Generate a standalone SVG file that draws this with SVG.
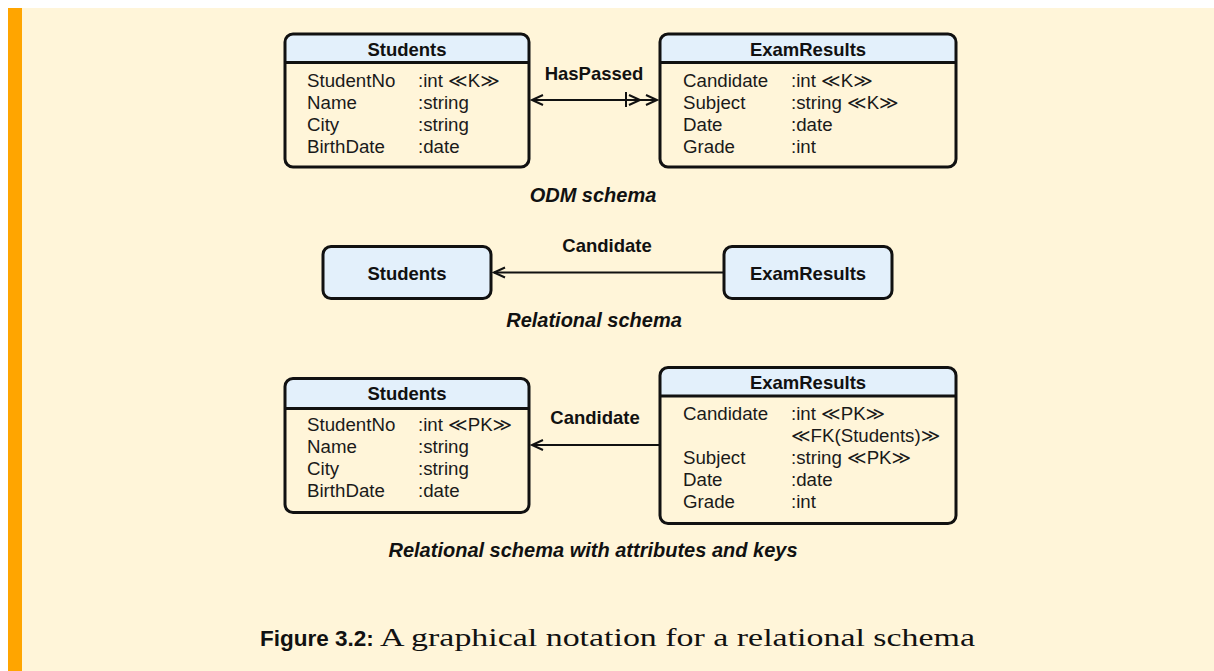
<svg xmlns="http://www.w3.org/2000/svg" width="1214" height="671" viewBox="0 0 1214 671">
<style>
.bgc{fill:#FFF5D9}
.body{fill:#FFF5D9}
.hdr{fill:#E3F0FB}
.frame{fill:none;stroke:#111;stroke-width:3}
.sep{stroke:#111;stroke-width:3}
.t{font-family:"Liberation Sans",Arial,"DejaVu Sans",sans-serif;font-size:18.7px;fill:#1a1a1a}
.b{font-family:"Liberation Sans",Arial,sans-serif;font-size:18.5px;font-weight:bold;fill:#111;text-anchor:middle}
.cap{font-family:"Liberation Sans",Arial,sans-serif;font-size:20px;font-weight:bold;font-style:italic;fill:#111;text-anchor:middle}
.ln{stroke:#111;stroke-width:2;fill:none}
</style>
<rect x="0" y="0" width="1214" height="671" fill="#FFFFFF"/>
<rect x="8" y="8" width="1206" height="663" class="bgc"/>
<rect x="8" y="8" width="14" height="663" fill="#FFA500"/>

<g id="odm-students">
<rect x="285" y="34" width="244" height="133" rx="8" class="body"/>
<path d="M285,62.5 V42 a8,8 0 0 1 8,-8 H521 a8,8 0 0 1 8,8 V62.5 Z" class="hdr"/>
<rect x="285" y="34" width="244" height="133" rx="8" class="frame"/>
<line x1="285" y1="62.5" x2="529" y2="62.5" class="sep"/>
<text x="407" y="55.5" class="b">Students</text>
<text class="t"><tspan x="307" y="86.5">StudentNo</tspan><tspan x="307" y="108.5">Name</tspan><tspan x="307" y="130.5">City</tspan><tspan x="307" y="152.5">BirthDate</tspan></text>
<text class="t"><tspan x="418" y="86.5">:int ≪K≫</tspan><tspan x="418" y="108.5">:string</tspan><tspan x="418" y="130.5">:string</tspan><tspan x="418" y="152.5">:date</tspan></text>
</g>

<g id="odm-examresults">
<rect x="660" y="34" width="296" height="133" rx="8" class="body"/>
<path d="M660,62.5 V42 a8,8 0 0 1 8,-8 H948 a8,8 0 0 1 8,8 V62.5 Z" class="hdr"/>
<rect x="660" y="34" width="296" height="133" rx="8" class="frame"/>
<line x1="660" y1="62.5" x2="956" y2="62.5" class="sep"/>
<text x="808" y="55.5" class="b">ExamResults</text>
<text class="t"><tspan x="683" y="86.5">Candidate</tspan><tspan x="683" y="108.5">Subject</tspan><tspan x="683" y="130.5">Date</tspan><tspan x="683" y="152.5">Grade</tspan></text>
<text class="t"><tspan x="791" y="86.5">:int ≪K≫</tspan><tspan x="791" y="108.5">:string ≪K≫</tspan><tspan x="791" y="130.5">:date</tspan><tspan x="791" y="152.5">:int</tspan></text>
</g>

<g id="rel-students">
<rect x="323" y="246.5" width="168" height="52" rx="8" class="hdr"/>
<rect x="323" y="246.5" width="168" height="52" rx="8" class="frame"/>
<text x="407" y="279.5" class="b">Students</text>
</g>

<g id="rel-examresults">
<rect x="724" y="246.5" width="168" height="52" rx="8" class="hdr"/>
<rect x="724" y="246.5" width="168" height="52" rx="8" class="frame"/>
<text x="808" y="279.5" class="b">ExamResults</text>
</g>

<g id="rk-students">
<rect x="285" y="378.5" width="244" height="134" rx="8" class="body"/>
<path d="M285,408.5 V386.5 a8,8 0 0 1 8,-8 H521 a8,8 0 0 1 8,8 V408.5 Z" class="hdr"/>
<rect x="285" y="378.5" width="244" height="134" rx="8" class="frame"/>
<line x1="285" y1="408.5" x2="529" y2="408.5" class="sep"/>
<text x="407" y="400" class="b">Students</text>
<text class="t"><tspan x="307" y="430.5">StudentNo</tspan><tspan x="307" y="452.5">Name</tspan><tspan x="307" y="474.5">City</tspan><tspan x="307" y="496.5">BirthDate</tspan></text>
<text class="t"><tspan x="418" y="430.5">:int ≪PK≫</tspan><tspan x="418" y="452.5">:string</tspan><tspan x="418" y="474.5">:string</tspan><tspan x="418" y="496.5">:date</tspan></text>
</g>

<g id="rk-examresults">
<rect x="660" y="367.5" width="296" height="156" rx="8" class="body"/>
<path d="M660,396 V375.5 a8,8 0 0 1 8,-8 H948 a8,8 0 0 1 8,8 V396 Z" class="hdr"/>
<rect x="660" y="367.5" width="296" height="156" rx="8" class="frame"/>
<line x1="660" y1="396" x2="956" y2="396" class="sep"/>
<text x="808" y="389" class="b">ExamResults</text>
<text class="t"><tspan x="683" y="420">Candidate</tspan><tspan x="683" y="464">Subject</tspan><tspan x="683" y="486">Date</tspan><tspan x="683" y="508">Grade</tspan></text>
<text class="t"><tspan x="791" y="420">:int ≪PK≫</tspan><tspan x="791" y="442">≪FK(Students)≫</tspan><tspan x="791" y="464">:string ≪PK≫</tspan><tspan x="791" y="486">:date</tspan><tspan x="791" y="508">:int</tspan></text>
</g>

<g id="connectors">
<line x1="532" y1="100" x2="657" y2="100" class="ln"/>
<path d="M543,95 L532,100 L543,105" class="ln"/>
<line x1="626" y1="92" x2="626" y2="107" class="ln"/>
<path d="M629,95 L640,100 L629,105 M646,95 L657,100 L646,105" class="ln"/>
<text x="594" y="80" class="b">HasPassed</text>

<line x1="494" y1="272.5" x2="724" y2="272.5" class="ln"/>
<path d="M505,267.5 L494,272.5 L505,277.5" class="ln"/>
<text x="607" y="252" class="b">Candidate</text>

<line x1="532" y1="445" x2="660" y2="445" class="ln"/>
<path d="M543,440 L532,445 L543,450" class="ln"/>
<text x="595" y="424" class="b">Candidate</text>
</g>

<text x="593" y="202" class="cap">ODM schema</text>
<text x="594" y="327" class="cap">Relational schema</text>
<text x="593" y="557" class="cap">Relational schema with attributes and keys</text>

<text x="260" y="646" font-family="'Liberation Sans',Arial,sans-serif" font-weight="bold" font-size="22.5px" fill="#111">Figure 3.2:</text>
<text x="380" y="646" font-family="'Liberation Serif','Times New Roman',serif" font-size="26px" fill="#111" textLength="595" lengthAdjust="spacingAndGlyphs">A graphical notation for a relational schema</text>
</svg>
